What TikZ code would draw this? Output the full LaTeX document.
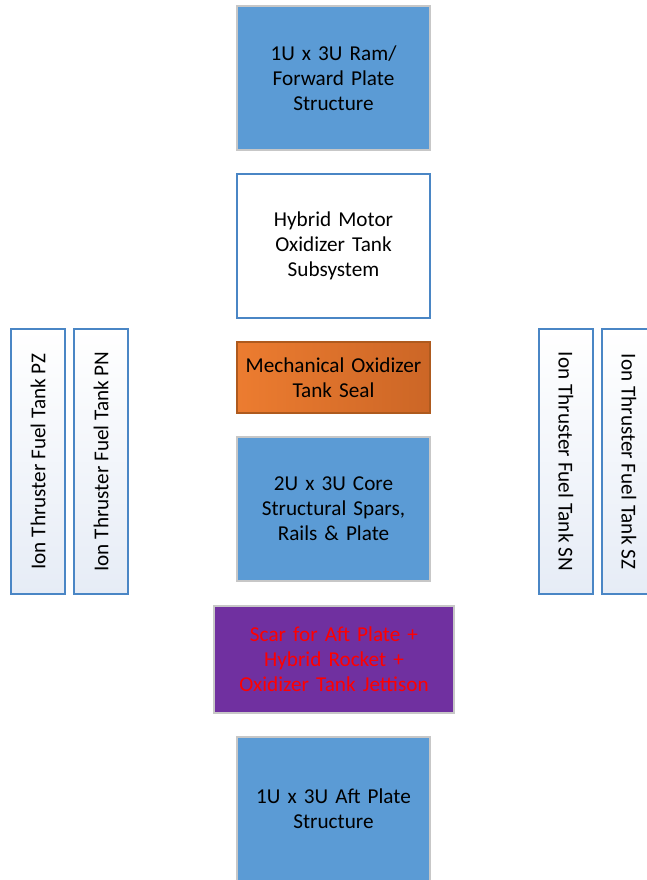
\documentclass[tikz,border=0pt]{standalone}
\usepackage{fontspec}
\setmainfont{Carlito}
\begin{document}
\begin{tikzpicture}[x=1pt,y=-1pt,
  every node/.style={align=center, inner sep=0pt,
    font=\fontsize{21.2}{25}\selectfont},
  bluebox/.style={draw=black!22, line width=1.2pt, fill=blockblue,
    minimum width=193pt, minimum height=144pt, text width=185pt},
  whitebox/.style={draw=edgeblue, line width=1.5pt, fill=white,
    minimum width=193pt, minimum height=144pt, text width=185pt},
  sealbox/.style={draw=sealedge, line width=1.5pt,
    shading angle=135, left color=sealhi, right color=seallo,
    minimum width=193pt, minimum height=71pt, text width=190pt},
  scarbox/.style={draw=black!22, line width=1.2pt, fill=scarpurple,
    text=red, minimum width=240pt, minimum height=107pt, text width=235pt},
  tankup/.style={draw=edgeblue, line width=1.5pt, rotate=90,
    top color=white, bottom color=tankpale,
    minimum width=265pt, minimum height=54pt},
  tankdown/.style={draw=edgeblue, line width=1.5pt, rotate=-90,
    top color=white, bottom color=tankpale,
    minimum width=265pt, minimum height=54pt}
]
\definecolor{blockblue}{HTML}{5B9BD5}
\definecolor{edgeblue}{HTML}{4A86C5}
\definecolor{sealhi}{HTML}{EC7C30}
\definecolor{seallo}{HTML}{CC6626}
\definecolor{sealedge}{HTML}{AE5A1E}
\definecolor{scarpurple}{HTML}{7030A0}
\definecolor{tankpale}{HTML}{E6ECF6}

\useasboundingbox (0,0) rectangle (646,880);
\fill[white] (0,0) rectangle (646,880);

% central stack
\node[bluebox] (ram) at (333.5,78) {1U x 3U Ram/\\Forward Plate\\Structure};
\node[whitebox] (oxtank) at (333.5,246) {Hybrid Motor\\Oxidizer Tank\\Subsystem};
\node[sealbox] (seal) at (333.5,377.5) {Mechanical Oxidizer\\Tank Seal};
\node[bluebox] (core) at (333.5,509) {2U x 3U Core\\Structural Spars,\\Rails \& Plate};
\node[scarbox] (scar) at (334,659.5) {Scar for Aft Plate +\\Hybrid Rocket +\\Oxidizer Tank Jettison};
\node[bluebox] (aft) at (333.5,809) {1U x 3U Aft Plate\\Structure};

% side fuel tanks
\node[tankup] (pz) at (38,461.5) {Ion Thruster Fuel Tank PZ};
\node[tankup] (pn) at (101,461.5) {Ion Thruster Fuel Tank PN};
\node[tankdown] (sn) at (566,461.5) {Ion Thruster Fuel Tank SN};
\node[tankdown] (sz) at (629,461.5) {Ion Thruster Fuel Tank SZ};
\end{tikzpicture}
\end{document}
